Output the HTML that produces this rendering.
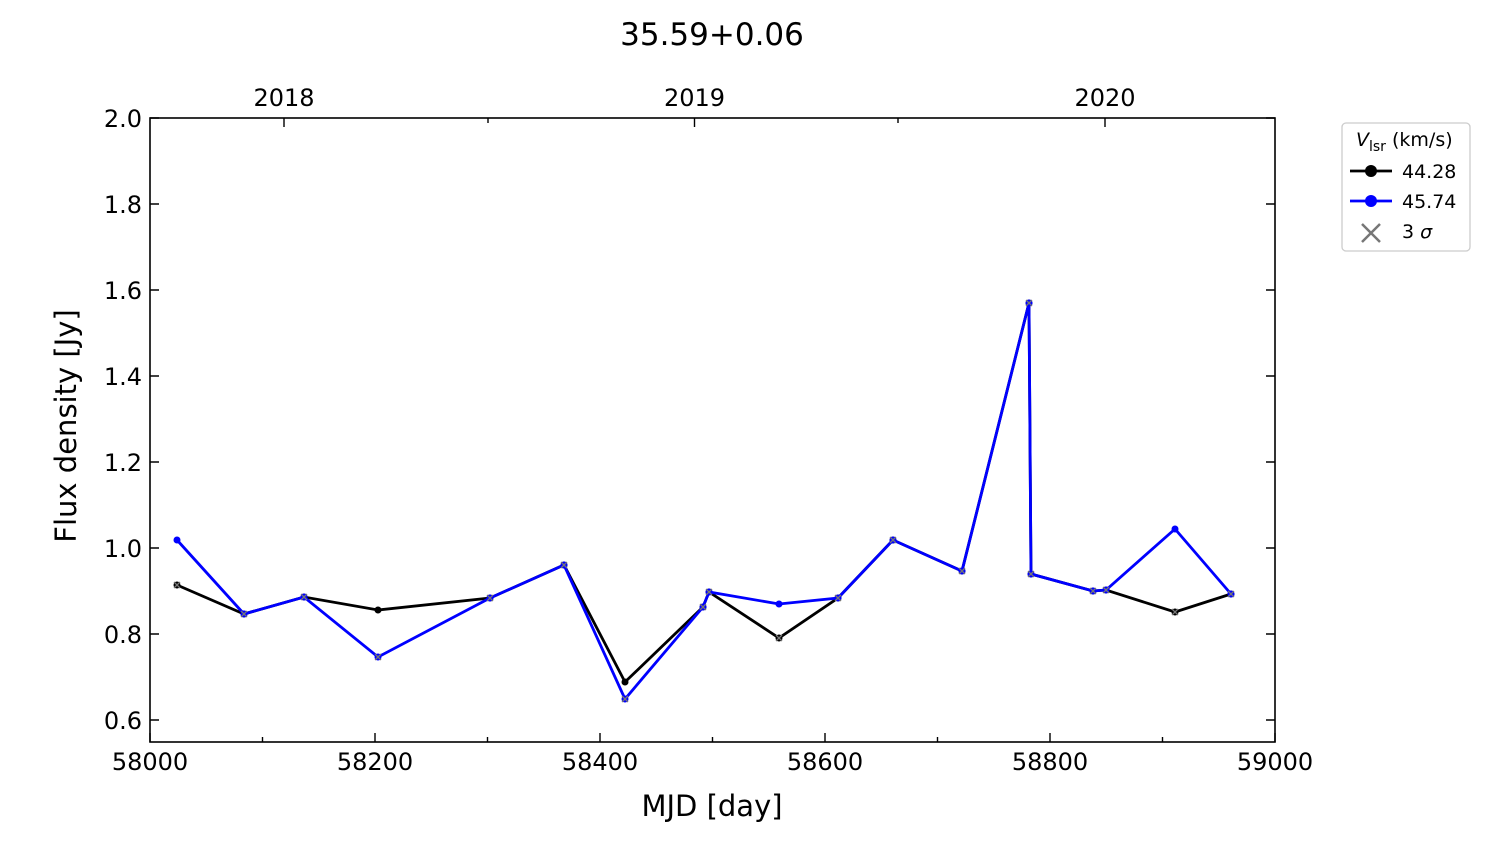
<!DOCTYPE html>
<html><head><meta charset="utf-8"><style>
body{margin:0;background:#fff;}
svg text{font-family:"DejaVu Sans","Liberation Sans",sans-serif;fill:#000;}
</style></head><body>
<svg width="1500" height="844" viewBox="0 0 1500 844" xmlns="http://www.w3.org/2000/svg">
<text x="712" y="45" font-size="31" text-anchor="middle">35.59+0.06</text>
<rect x="150" y="118" width="1125" height="624" fill="none" stroke="#000" stroke-width="1.6"/>
<g stroke="#000" stroke-width="1.4">
<path d="M150 742v-9M375 742v-9M600 742v-9M825 742v-9M1050 742v-9M1275 742v-9"/>
<path d="M262.5 742v-5M487.5 742v-5M712.5 742v-5M937.5 742v-5M1162.5 742v-5"/>
<path d="M284 118v9M694.5 118v9M1105 118v9M488 118v5M898 118v5"/>
<path d="M150 118h9M150 204h9M150 290h9M150 376h9M150 462h9M150 548h9M150 634h9M150 720h9"/>
<path d="M1275 118h-9M1275 204h-9M1275 290h-9M1275 376h-9M1275 462h-9M1275 548h-9M1275 634h-9M1275 720h-9"/>
</g>
<g font-size="24" text-anchor="middle">
<text x="150" y="770">58000</text><text x="375" y="770">58200</text><text x="600" y="770">58400</text>
<text x="825" y="770">58600</text><text x="1050" y="770">58800</text><text x="1275" y="770">59000</text>
<text x="284" y="106">2018</text><text x="694.5" y="106">2019</text><text x="1105" y="106">2020</text>
</g>
<g font-size="24" text-anchor="end">
<text x="142" y="127">2.0</text><text x="142" y="213">1.8</text><text x="142" y="299">1.6</text>
<text x="142" y="385">1.4</text><text x="142" y="471">1.2</text><text x="142" y="557">1.0</text>
<text x="142" y="643">0.8</text><text x="142" y="729">0.6</text>
</g>
<text x="712" y="816" font-size="29" text-anchor="middle">MJD [day]</text>
<text transform="translate(76,426) rotate(-90)" font-size="29" text-anchor="middle">Flux density [Jy]</text>
<polyline fill="none" stroke="#000" stroke-width="2.8" points="177,585 244,614 304,597 378,610 490,598 564,565 625,682 703,607 709,592 779,638 838,598 893,540 962,571 1029,303 1031,574 1093,591 1106,590 1175,612 1231,594"/>
<g fill="#000">
<circle cx="177" cy="585" r="3.5"/><circle cx="244" cy="614" r="3.5"/><circle cx="304" cy="597" r="3.5"/><circle cx="378" cy="610" r="3.5"/><circle cx="490" cy="598" r="3.5"/><circle cx="564" cy="565" r="3.5"/><circle cx="625" cy="682" r="3.5"/><circle cx="703" cy="607" r="3.5"/><circle cx="709" cy="592" r="3.5"/><circle cx="779" cy="638" r="3.5"/><circle cx="838" cy="598" r="3.5"/><circle cx="893" cy="540" r="3.5"/><circle cx="962" cy="571" r="3.5"/><circle cx="1029" cy="303" r="3.5"/><circle cx="1031" cy="574" r="3.5"/><circle cx="1093" cy="591" r="3.5"/><circle cx="1106" cy="590" r="3.5"/><circle cx="1175" cy="612" r="3.5"/><circle cx="1231" cy="594" r="3.5"/>
</g>
<polyline fill="none" stroke="#0000ff" stroke-width="2.8" points="177,540 244,614 304,597 378,657 490,598 564,565 625,699 703,607 709,592 779,604 838,598 893,540 962,571 1029,303 1031,574 1093,591 1106,590 1175,529 1231,594"/>
<g fill="#0000ff">
<circle cx="177" cy="540" r="3.5"/><circle cx="244" cy="614" r="3.5"/><circle cx="304" cy="597" r="3.5"/><circle cx="378" cy="657" r="3.5"/><circle cx="490" cy="598" r="3.5"/><circle cx="564" cy="565" r="3.5"/><circle cx="625" cy="699" r="3.5"/><circle cx="703" cy="607" r="3.5"/><circle cx="709" cy="592" r="3.5"/><circle cx="779" cy="604" r="3.5"/><circle cx="838" cy="598" r="3.5"/><circle cx="893" cy="540" r="3.5"/><circle cx="962" cy="571" r="3.5"/><circle cx="1029" cy="303" r="3.5"/><circle cx="1031" cy="574" r="3.5"/><circle cx="1093" cy="591" r="3.5"/><circle cx="1106" cy="590" r="3.5"/><circle cx="1175" cy="529" r="3.5"/><circle cx="1231" cy="594" r="3.5"/>
</g>
<g stroke="#777" stroke-width="1.3">
<path d="M174 582l6 6m0-6l-6 6M241 611l6 6m0-6l-6 6M301 594l6 6m0-6l-6 6M375 654l6 6m0-6l-6 6M487 595l6 6m0-6l-6 6M561 562l6 6m0-6l-6 6M622 696l6 6m0-6l-6 6M700 604l6 6m0-6l-6 6M706 589l6 6m0-6l-6 6M776 635l6 6m0-6l-6 6M835 595l6 6m0-6l-6 6M890 537l6 6m0-6l-6 6M959 568l6 6m0-6l-6 6M1026 300l6 6m0-6l-6 6M1028 571l6 6m0-6l-6 6M1090 588l6 6m0-6l-6 6M1103 587l6 6m0-6l-6 6M1172 609l6 6m0-6l-6 6M1228 591l6 6m0-6l-6 6"/>
</g>
<rect x="1342" y="123" width="128" height="128" rx="4" fill="#fff" stroke="#ccc" stroke-width="1.3"/>
<text x="1356" y="146" font-size="19"><tspan font-style="italic">V</tspan><tspan font-size="14" dy="5">lsr</tspan><tspan dy="-5"> (km/s)</tspan></text>
<line x1="1350" y1="171" x2="1392" y2="171" stroke="#000" stroke-width="2.8"/><circle cx="1371" cy="171" r="6" fill="#000"/>
<text x="1402" y="178" font-size="19">44.28</text>
<line x1="1350" y1="201" x2="1392" y2="201" stroke="#00f" stroke-width="2.8"/><circle cx="1371" cy="201" r="6" fill="#00f"/>
<text x="1402" y="208" font-size="19">45.74</text>
<path d="M1362 224l18 18m0-18l-18 18" stroke="#777" stroke-width="2.5"/>
<text x="1402" y="238" font-size="19">3 <tspan font-style="italic">σ</tspan></text>
</svg>
</body></html>
